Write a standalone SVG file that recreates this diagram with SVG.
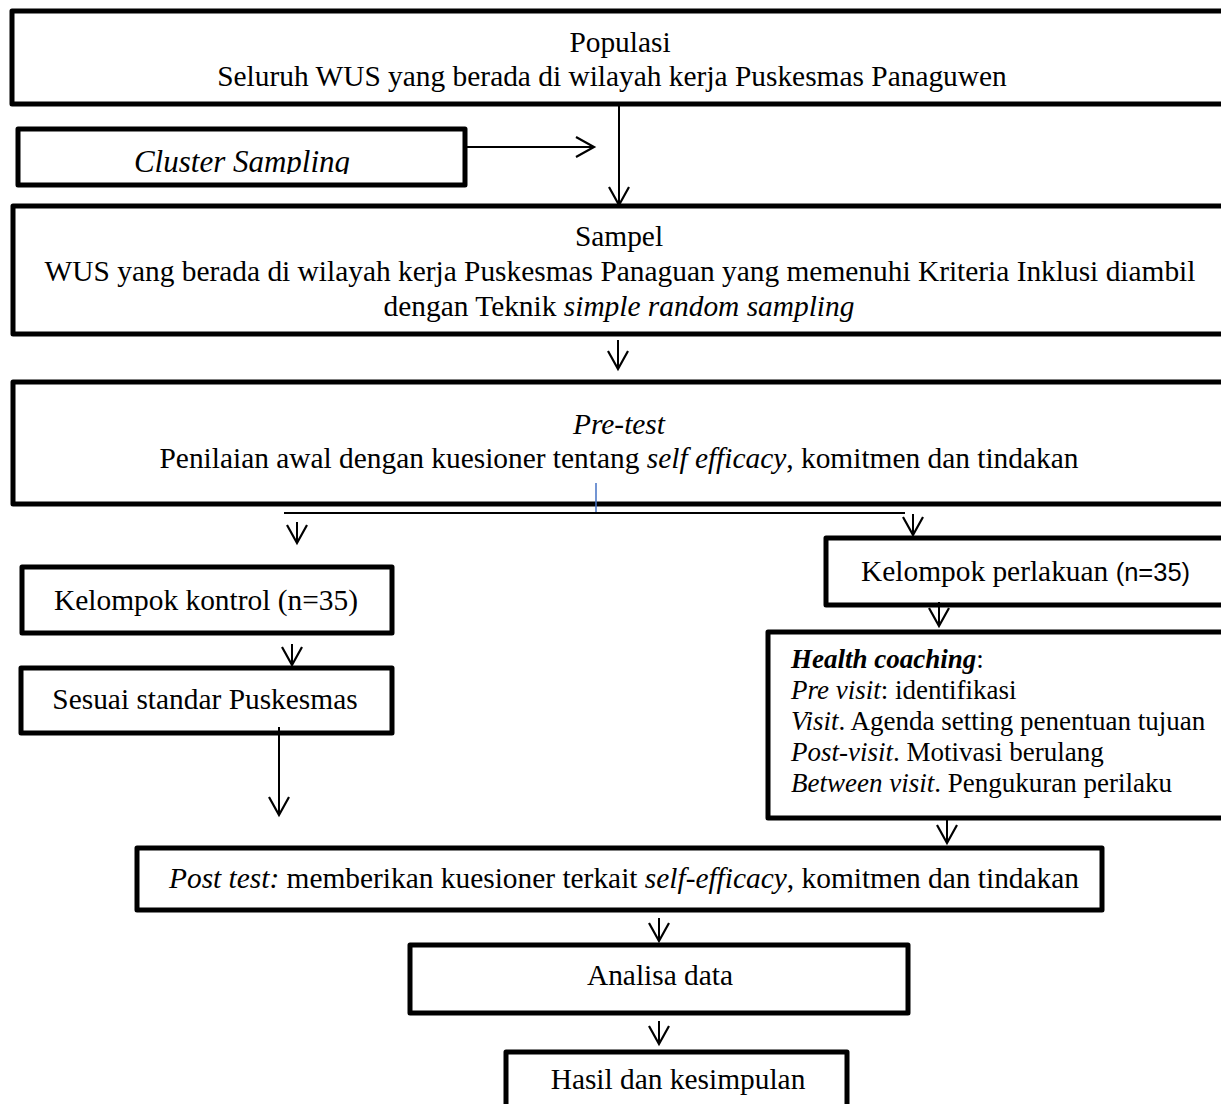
<svg xmlns="http://www.w3.org/2000/svg" width="1221" height="1104" viewBox="0 0 1221 1104">
<style>
.box{fill:#fff;stroke:#000;stroke-width:5;stroke-linejoin:round}
.t{font-family:"Liberation Serif","Times New Roman",serif;font-size:29.4px;fill:#000}
.m{text-anchor:middle}
.h{font-family:"Liberation Serif","Times New Roman",serif;font-size:27px;fill:#000}
.i{font-style:italic}
.b{font-weight:bold}
.s{font-family:"Liberation Sans",Arial,sans-serif;font-size:25.5px}
.c{fill:none;stroke:#000;stroke-width:2}
</style>
<defs>
<marker id="arr" markerUnits="userSpaceOnUse" markerWidth="24" markerHeight="24" refX="18" refY="10" orient="auto" overflow="visible">
<path d="M0,0 L18,10 L0,20" fill="none" stroke="#000" stroke-width="2.2"/>
</marker>
<clipPath id="clipCluster"><rect x="20" y="131" width="443" height="43"/></clipPath>
</defs>

<g id="populasi">
<rect class="box" x="12" y="11" width="1220" height="93"/>
<text class="t m" x="620" y="52">Populasi</text>
<text class="t m" x="612" y="86">Seluruh WUS yang berada di wilayah kerja Puskesmas Panaguwen</text>
</g>

<g id="cluster">
<rect class="box" x="18" y="129" width="447" height="56"/>
<text class="t i m" x="242" y="172" style="font-size:31px" clip-path="url(#clipCluster)">Cluster Sampling</text>
</g>

<g id="sampel">
<rect class="box" x="13" y="206" width="1220" height="128"/>
<text class="t m" x="619" y="246">Sampel</text>
<text class="t m" x="620" y="281">WUS yang berada di wilayah kerja Puskesmas Panaguan yang memenuhi Kriteria Inklusi diambil</text>
<text class="t m" x="619" y="316">dengan Teknik <tspan class="i">simple random sampling</tspan></text>
</g>

<g id="pretest">
<rect class="box" x="13" y="382" width="1220" height="122"/>
<text class="t i m" x="619" y="434">Pre-test</text>
<text class="t m" x="619" y="468">Penilaian awal dengan kuesioner tentang <tspan class="i">self efficacy</tspan>, komitmen dan tindakan</text>
</g>

<g id="kontrol">
<rect class="box" x="22" y="567" width="370" height="66"/>
<text class="t m" x="206" y="610">Kelompok kontrol (n=35)</text>
</g>

<g id="sesuai">
<rect class="box" x="21" y="668" width="371" height="65"/>
<text class="t m" x="205" y="709">Sesuai standar Puskesmas</text>
</g>

<g id="perlakuan">
<rect class="box" x="826" y="538" width="400" height="67"/>
<text class="t" x="861" y="581">Kelompok perlakuan <tspan class="s">(n=35)</tspan></text>
</g>

<g id="health">
<rect class="box" x="768" y="632" width="460" height="186"/>
<text class="h" x="791" y="668"><tspan class="b i">Health coaching</tspan>:</text>
<text class="h" x="791" y="699"><tspan class="i">Pre visit</tspan>: identifikasi</text>
<text class="h" x="791" y="730"><tspan class="i">Visit</tspan>. Agenda setting penentuan tujuan</text>
<text class="h" x="791" y="761"><tspan class="i">Post-visit</tspan>. Motivasi berulang</text>
<text class="h" x="791" y="792"><tspan class="i">Between visit</tspan>. Pengukuran perilaku</text>
</g>

<g id="posttest">
<rect class="box" x="137" y="848" width="965" height="62"/>
<text class="t m" x="624" y="888"><tspan class="i">Post test:</tspan> memberikan kuesioner terkait <tspan class="i">self-efficacy</tspan>, komitmen dan tindakan</text>
</g>

<g id="analisa">
<rect class="box" x="410" y="945" width="498" height="68"/>
<text class="t m" x="660" y="985">Analisa data</text>
</g>

<g id="hasil">
<rect class="box" x="506" y="1052" width="341" height="60"/>
<text class="t m" x="678" y="1089">Hasil dan kesimpulan</text>
</g>

<g id="connectors">
<line class="c" x1="619" y1="105" x2="619" y2="205" marker-end="url(#arr)"/>
<line class="c" x1="466" y1="147" x2="594" y2="147" marker-end="url(#arr)"/>
<line class="c" x1="618" y1="340" x2="618" y2="369" marker-end="url(#arr)"/>
<line x1="596" y1="483" x2="596" y2="512" stroke="#4472C4" stroke-width="1.5"/>
<line class="c" x1="284" y1="513" x2="905" y2="513"/>
<line class="c" x1="297" y1="522" x2="297" y2="543" marker-end="url(#arr)"/>
<line class="c" x1="913" y1="514" x2="913" y2="535" marker-end="url(#arr)"/>
<line class="c" x1="292" y1="644" x2="292" y2="665" marker-end="url(#arr)"/>
<line class="c" x1="279" y1="727" x2="279" y2="815" marker-end="url(#arr)"/>
<line class="c" x1="939" y1="602" x2="939" y2="626" marker-end="url(#arr)"/>
<line class="c" x1="947" y1="820" x2="947" y2="843" marker-end="url(#arr)"/>
<line class="c" x1="659" y1="918" x2="659" y2="941" marker-end="url(#arr)"/>
<line class="c" x1="659" y1="1021" x2="659" y2="1044" marker-end="url(#arr)"/>
</g>
</svg>
